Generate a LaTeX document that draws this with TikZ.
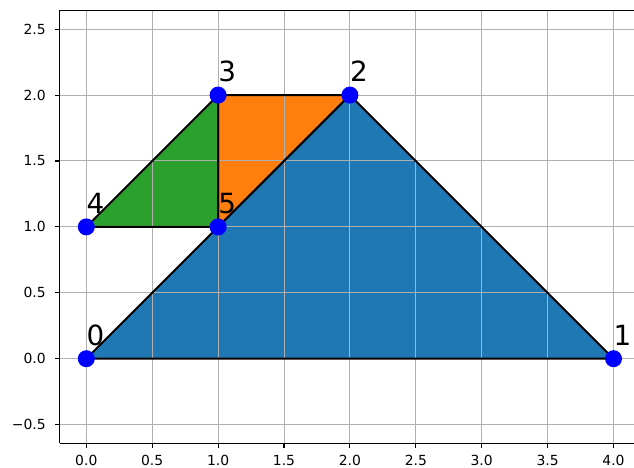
\documentclass[tikz,border=0pt]{standalone}
\usepackage{fontspec}
\setmainfont{DejaVu Sans}
\usetikzlibrary{calc}
\definecolor{tblue}{RGB}{31,119,180}
\definecolor{torange}{RGB}{255,127,14}
\definecolor{tgreen}{RGB}{44,160,44}
\definecolor{vblue}{RGB}{0,0,255}
\definecolor{gridgray}{RGB}{176,176,176}

\begin{document}
\begin{tikzpicture}[
            x=131.8pt, y=131.8pt,
            gridln/.style={draw=gridgray, line width=1pt},
            spine/.style={draw=black, line width=1.1pt},
            tickmk/.style={draw=black, line width=1.1pt},
            facet/.style={draw=black, line width=2pt, line join=round},
            vtx/.style={circle, fill=vblue, inner sep=0pt, minimum size=17pt},
            vlab/.style={anchor=base west, inner sep=0pt, font=\fontsize{27.8}{30}\selectfont},
            xlab/.style={anchor=north, inner sep=0pt, yshift=-12pt, font=\fontsize{13.9}{16}\selectfont},
            ylab/.style={anchor=east, inner sep=0pt, xshift=-13.6pt, font=\fontsize{13.9}{16}\selectfont}
          ]
          \useasboundingbox (-0.6548,-0.8293) rectangle (4.1555,2.7215);
          % mesh points
          \coordinate (v0) at (0,0);
          \coordinate (v1) at (4,0);
          \coordinate (v2) at (2,2);
          \coordinate (v3) at (1,2);
          \coordinate (v4) at (0,1);
          \coordinate (v5) at (1,1);
          % faces
          \fill[tblue]   (v0) -- (v1) -- (v2) -- cycle;
          \fill[torange] (v3) -- (v2) -- (v5) -- cycle;
          \fill[tgreen]  (v4) -- (v5) -- (v3) -- cycle;
          % grid
          \foreach \x in {0,0.5,...,4}
            \draw[gridln] (\x,-0.642) -- (\x,2.643);
          \foreach \y in {-0.5,0,...,2.5}
            \draw[gridln] (-0.203,\y) -- (4.1555,\y);
          % face edges
          \draw[facet] (v0) -- (v1) -- (v2) -- cycle;
          \draw[facet] (v3) -- (v2) -- (v5) -- cycle;
          \draw[facet] (v4) -- (v5) -- (v3) -- cycle;
          % axes frame
          \draw[spine] (-0.203,-0.642) -- (-0.203,2.643);
          \draw[spine] (-0.203,2.643) -- (4.1555,2.643);
          \draw[spine] (-0.203,-0.642) -- (4.1555,-0.642);
          % ticks
          \foreach \x/\t [count=\i] in {0/0.0, 0.5/0.5, 1/1.0, 1.5/1.5, 2/2.0, 2.5/2.5, 3/3.0, 3.5/3.5, 4/4.0} {
            \draw[tickmk] (\x,-0.642) -- ++(0,-4.9pt);
            \node[xlab] (xt\i) at (\x,-0.642) {\t};
          }
          \foreach \y/\t [count=\i] in {-0.5/−0.5, 0/0.0, 0.5/0.5, 1/1.0, 1.5/1.5, 2/2.0, 2.5/2.5} {
            \draw[tickmk] (-0.203,\y) -- ++(-4.9pt,0);
            \node[ylab] (yt\i) at (-0.203,\y) {\t};
          }
          % vertices
          \node[vtx] (p0) at (v0) {};
          \node[vtx] (p1) at (v1) {};
          \node[vtx] (p2) at (v2) {};
          \node[vtx] (p3) at (v3) {};
          \node[vtx] (p4) at (v4) {};
          \node[vtx] (p5) at (v5) {};
          \node[vlab] (l0) at ($(v0)+(0,0.1)$) {0};
          \node[vlab] (l1) at ($(v1)+(0,0.1)$) {1};
          \node[vlab] (l2) at ($(v2)+(0,0.1)$) {2};
          \node[vlab] (l3) at ($(v3)+(0,0.1)$) {3};
          \node[vlab] (l4) at ($(v4)+(0,0.1)$) {4};
          \node[vlab] (l5) at ($(v5)+(0,0.1)$) {5};
        \end{tikzpicture}
\end{document}
